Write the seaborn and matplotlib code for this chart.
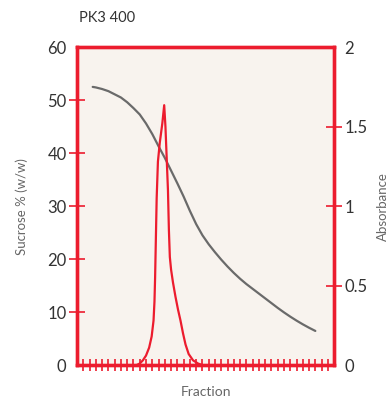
import seaborn as sns
import pandas as pd
import matplotlib.pyplot as plt

# sucrose gradient (left axis)
sucrose_frac = [2.5, 3, 4, 5, 6, 7, 8, 9, 10, 11, 12, 13, 14, 15, 16, 17, 18, 19, 20,
                21, 22, 23, 24, 25, 26, 27, 28, 29, 30, 31, 32, 33, 34, 35, 36, 37, 38]
sucrose_pct = [52.5, 52.4, 52.1, 51.7, 51.1, 50.5, 49.6, 48.5, 47.3, 45.6, 43.6, 41.3, 39.1,
               36.7, 34.3, 31.8, 29.1, 26.6, 24.5, 22.8, 21.3, 19.9, 18.6, 17.4, 16.3, 15.3,
               14.4, 13.5, 12.6, 11.7, 10.8, 9.95, 9.15, 8.4, 7.7, 7.05, 6.45]

# absorbance peak (right axis)
abs_frac = [9.5, 10, 10.5, 11, 11.5, 11.9, 12.2, 12.35, 12.45, 12.55, 12.7, 12.9, 13.2, 13.6,
            13.9, 14.1, 14.3, 14.5, 14.65, 14.8, 15.0, 15.3, 15.7, 16.1, 16.5, 16.9, 17.3,
            17.8, 18.5, 19.3, 20.0]
absorbance = [0.0, 0.01, 0.03, 0.06, 0.11, 0.18, 0.28, 0.40, 0.55, 0.75, 1.05, 1.28, 1.40,
              1.52, 1.635, 1.5, 1.3, 1.1, 0.85, 0.68, 0.6, 0.52, 0.43, 0.35, 0.28, 0.2, 0.13,
              0.07, 0.03, 0.01, 0.0]

fraction_ticks = list(range(1, 41))
left_ticks = [0, 10, 20, 30, 40, 50, 60]
right_ticks = [0, 0.5, 1, 1.5, 2]
right_labels = ['0', '0.5', '1', '1.5', '2']

RED = '#EC1C2E'
GRAY = '#6A6A6A'
TXT = '#333333'

sns.set_theme(style='white')
plt.rcParams['font.family'] = ['Lato', 'DejaVu Sans']

fig = plt.figure(figsize=(3.89, 4.03), dpi=100)
ax = fig.add_axes([0.198, 0.094, 0.661, 0.789])
ax.set_facecolor('#F8F3EE')
ax2 = ax.twinx()

df_s = pd.DataFrame({'Fraction': sucrose_frac, 'Sucrose': sucrose_pct})
df_a = pd.DataFrame({'Fraction': abs_frac, 'Absorbance': absorbance})

sns.lineplot(data=df_s, x='Fraction', y='Sucrose', color=GRAY, lw=1.6, ax=ax)
sns.lineplot(data=df_a, x='Fraction', y='Absorbance', color=RED, lw=1.6, ax=ax2)

ax.set_xlim(0, 41)
ax.set_ylim(0, 60)
ax2.set_ylim(0, 2)

ax.set_xticks(fraction_ticks)
ax.set_xticklabels([])
ax.set_yticks(left_ticks)
ax2.set_yticks(right_ticks)
ax2.set_yticklabels(right_labels)

ax.tick_params(axis='x', direction='inout', length=9, width=1.2, color=RED, bottom=True)
ax.tick_params(axis='y', direction='inout', length=11, width=1.2, color=RED, left=True,
               labelsize=12, labelcolor=TXT, pad=2)
ax2.tick_params(axis='y', direction='inout', length=11, width=1.2, color=RED, right=True,
                labelsize=12, labelcolor=TXT, pad=2)

# no tick marks on the corners
for a in (ax, ax2):
    ticks = a.yaxis.get_major_ticks()
    for t in (ticks[0], ticks[-1]):
        t.tick1line.set_visible(False)
        t.tick2line.set_visible(False)

for a in (ax, ax2):
    for s in a.spines.values():
        s.set_color(RED)
        s.set_linewidth(2.4)

ax.set_xlabel('Fraction', color='#666666', fontsize=10, labelpad=7)
ax.set_ylabel('Sucrose % (w/w)', color='#666666', fontsize=9.5, labelpad=14)
ax2.set_ylabel('Absorbance', color='#666666', fontsize=9.5, labelpad=7)

fig.text(0.203, 0.955, 'PK3 400', color=TXT, fontsize=10.5, ha='left', va='center')

plt.savefig('out.png', dpi=100)
